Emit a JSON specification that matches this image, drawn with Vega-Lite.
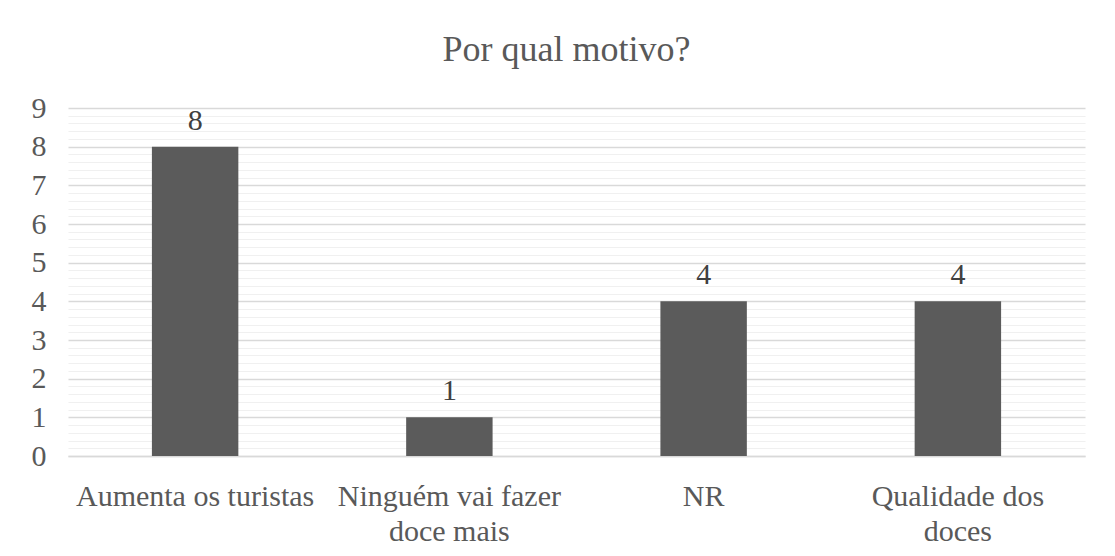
{
  "$schema": "https://vega.github.io/schema/vega-lite/v6.json",
  "autosize": "none",
  "width": 1017,
  "height": 348,
  "padding": {"left": 68, "top": 108, "right": 30, "bottom": 100},
  "background": "white",
  "title": {
    "text": "Por qual motivo?",
    "font": "Liberation Serif",
    "fontSize": 36,
    "fontWeight": "normal",
    "color": "#595959",
    "anchor": "middle",
    "baseline": "alphabetic",
    "offset": -4,
    "dx": -10
  },
  "data": {
    "values": [
      {"motivo": "Aumenta os turistas", "n": 8},
      {"motivo": "Ninguém vai fazer doce mais", "n": 1},
      {"motivo": "NR", "n": 4},
      {"motivo": "Qualidade dos doces", "n": 4}
    ]
  },
  "encoding": {
    "x": {
      "field": "motivo",
      "type": "nominal",
      "sort": null,
      "scale": {"paddingInner": 0.66, "paddingOuter": 0.33},
      "axis": {
        "title": null,
        "labelAngle": 0,
        "labelFont": "Liberation Serif",
        "labelFontSize": 30,
        "labelColor": "#595959",
        "labelPadding": 25,
        "labelLineHeight": 35,
        "labelLimit": 400,
        "labelExpr": "datum.label == 'Ninguém vai fazer doce mais' ? ['Ninguém vai fazer', 'doce mais'] : datum.label == 'Qualidade dos doces' ? ['Qualidade dos', 'doces'] : datum.label",
        "ticks": false,
        "domain": true,
        "domainColor": "#d9d9d9",
        "domainWidth": 1.5
      }
    },
    "y": {
      "field": "n",
      "type": "quantitative",
      "scale": {"domain": [0, 9], "nice": false},
      "axis": {
        "title": null,
        "values": [0, 0.2, 0.4, 0.6, 0.8, 1, 1.2, 1.4, 1.6, 1.8, 2, 2.2, 2.4, 2.6, 2.8, 3, 3.2, 3.4, 3.6, 3.8, 4, 4.2, 4.4, 4.6, 4.8, 5, 5.2, 5.4, 5.6, 5.8, 6, 6.2, 6.4, 6.6, 6.8, 7, 7.2, 7.4, 7.6, 7.8, 8, 8.2, 8.4, 8.6, 8.8, 9],
        "labelExpr": "abs(datum.value - round(datum.value)) < 0.01 ? format(datum.value, 'd') : ''",
        "labelOverlap": false,
        "labelFont": "Liberation Serif",
        "labelFontSize": 30,
        "labelColor": "#595959",
        "labelPadding": 22,
        "ticks": false,
        "domain": false,
        "grid": true,
        "gridColor": {
          "condition": {"test": "abs(datum.value - round(datum.value)) < 0.01", "value": "#d9d9d9"},
          "value": "#f0f0f0"
        },
        "gridWidth": {
          "condition": {"test": "abs(datum.value - round(datum.value)) < 0.01", "value": 1.5},
          "value": 1.2
        }
      }
    }
  },
  "layer": [
    {"mark": {"type": "bar", "color": "#5b5b5b"}},
    {
      "mark": {
        "type": "text",
        "font": "Liberation Serif",
        "fontSize": 30,
        "color": "#404040",
        "baseline": "alphabetic",
        "dy": -17
      },
      "encoding": {"text": {"field": "n", "type": "quantitative"}}
    }
  ],
  "config": {"view": {"stroke": null}}
}
